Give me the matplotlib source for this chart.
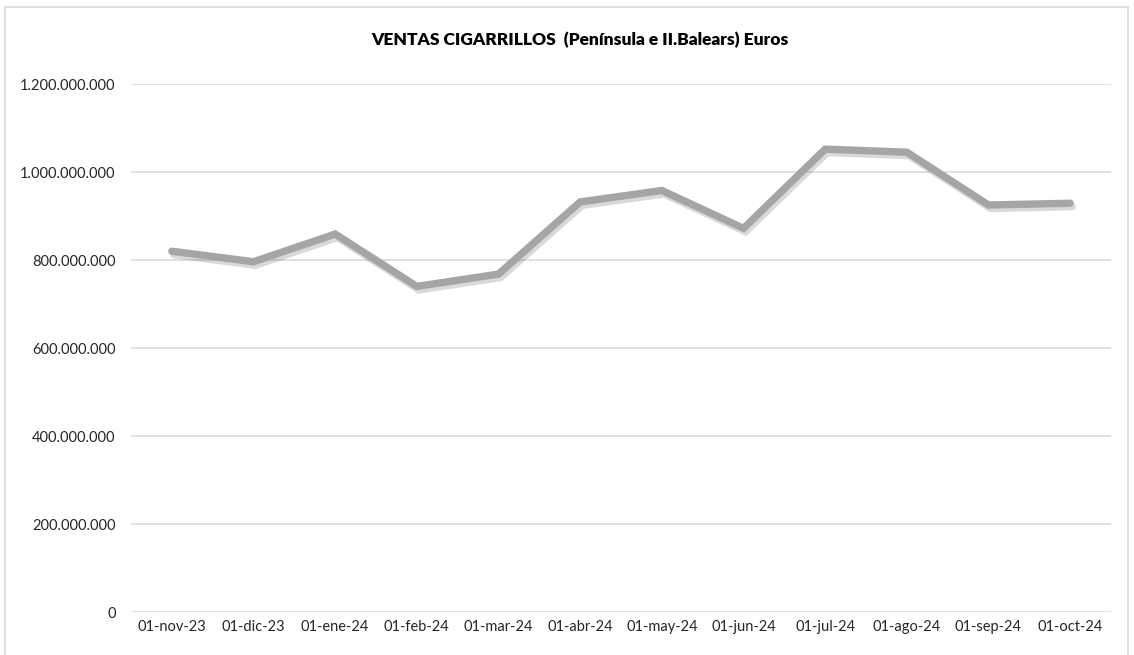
import matplotlib
matplotlib.use("Agg")
from matplotlib import pyplot as plt
from matplotlib import patheffects as pe
from matplotlib.patches import Rectangle
from matplotlib.ticker import FuncFormatter

months = ["01-nov-23", "01-dic-23", "01-ene-24", "01-feb-24", "01-mar-24", "01-abr-24",
          "01-may-24", "01-jun-24", "01-jul-24", "01-ago-24", "01-sep-24", "01-oct-24"]
ventas = [820e6, 796e6, 859e6, 740e6, 768e6, 932e6,
          958e6, 872e6, 1052e6, 1045e6, 925e6, 929e6]
y_ticks = [0, 200e6, 400e6, 600e6, 800e6, 1000e6, 1200e6]
title = "VENTAS CIGARRILLOS  (Península e II.Balears) Euros"

plt.rcParams['font.family'] = ['Lato', 'DejaVu Sans']

fig = plt.figure(figsize=(11.34, 6.55), dpi=100)
fig.patches.append(Rectangle((5 / 1134, -0.01), 1123 / 1134, 1 - 7 / 655 + 0.01,
                             transform=fig.transFigure, fill=False,
                             edgecolor='#d9d9d9', linewidth=1.2))
ax = fig.add_axes([131 / 1134, 1 - 612 / 655, 980 / 1134, 528 / 655])

x = list(range(len(months)))
ax.plot(x, ventas, color='#a5a5a5', linewidth=5.3, solid_capstyle='round',
        solid_joinstyle='miter',
        path_effects=[pe.SimpleLineShadow(offset=(1.5, -2.5), shadow_color='#000000', alpha=0.15),
                      pe.Normal()], zorder=3)

ax.set_xlim(-0.5, len(months) - 0.5)
ax.set_ylim(0, 1200e6)
ax.set_yticks(y_ticks)
ax.yaxis.set_major_formatter(FuncFormatter(lambda v, p: f"{int(v):,}".replace(",", ".")))
ax.set_xticks(x)
ax.set_xticklabels(months)
ax.grid(axis='y', color='#d9d9d9', linewidth=1.1)
ax.set_axisbelow(True)
for s in ax.spines.values():
    s.set_visible(False)
ax.tick_params(length=0, labelsize=10.5, colors='#262626', pad=6)
ax.tick_params(axis='y', pad=11)

fig.text(580 / 1134, 1 - 40 / 655, title, ha='center', va='center',
         fontsize=12.5, fontweight='heavy', color='#000000')

plt.savefig("out.png", dpi=100)
plt.close()
